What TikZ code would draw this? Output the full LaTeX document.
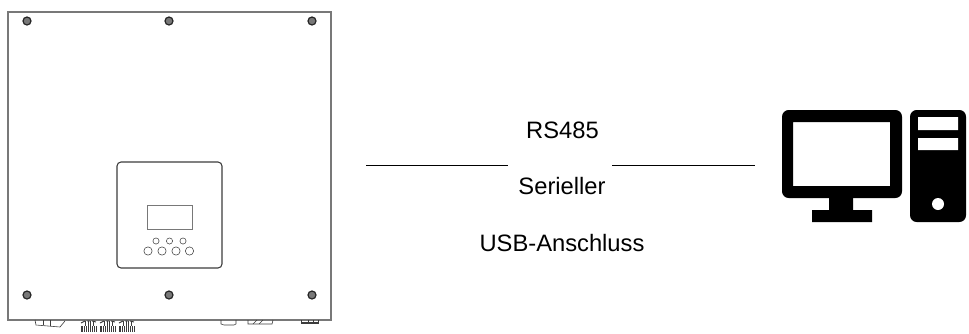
\documentclass[tikz,border=0pt]{standalone}
\usepackage{fontspec}
\setmainfont{Liberation Sans}
\usetikzlibrary{positioning,calc}
\definecolor{INVgray}{RGB}{120,120,120}
\definecolor{INVdark}{RGB}{60,60,60}
\tikzset{
  housing/.style={draw=INVgray,line width=1.2pt,fill=white},
  part/.style={draw=INVdark,line width=0.45pt},
  screw/.style={circle,draw=black!85,line width=0.9pt,fill=INVgray,inner sep=0pt,minimum size=6pt},
  keybig/.style={circle,draw=INVdark,line width=0.4pt,inner sep=0pt,minimum size=6.2pt},
  keysmall/.style={circle,draw=INVdark,line width=0.4pt,inner sep=0pt,minimum size=4.6pt},
  label/.style={font=\fontsize{17.8}{20}\selectfont,text=black,inner sep=0pt,anchor=base},
  wire/.style={draw=black,line width=0.9pt}
}
\begin{document}
\begin{tikzpicture}[x=0.75pt,y=-0.75pt]
  \useasboundingbox (0,0) rectangle (969,333);
  % inverter
  \draw[housing] (8,12) rectangle (331,320);
  \foreach \px/\py/\pname in {27/21/a,169/21/b,312/21/c,27/295/d,169/295/e,312/295/f}
    \node[screw] (screw\pname) at (\px,\py) {};
  \draw[draw=INVdark,line width=0.8pt,rounded corners=3pt] (117,162) rectangle (222,268);
  \draw[draw=INVgray,line width=0.7pt] (147,205) rectangle (192,229);
  \foreach \px in {156,169.5,183}
    \node[keysmall] at (\px,241) {};
  \foreach \px in {148,162,176,189.5}
    \node[keybig] at (\px,251) {};
  % connectors under the housing
  \draw[part] (35,320) -- (36,325) -- (60,327) -- (65,321);
  \draw[part] (43,320) -- (43,325) (50,320) -- (50,326);
  \foreach \px in {81,100,119}{
    \draw[part,line width=0.7pt] (\px,323) -- (\px+4,321) (\px+6,321) -- (\px+9,321) (\px+11,321) -- (\px+15,322);
    \foreach \dx in {0,1.5,3,5,7,9,11,13,15}
      \draw[part,line width=0.6pt] (\px+\dx,326) -- (\px+\dx,332);
    \foreach \dx in {4,7,9,12}
      \draw[part] (\px+\dx,321) -- (\px+\dx,326);
  }
  \draw[part] (221,320) -- (221,324) -- (224,325) -- (234,325) -- (236,324) -- (236,320);
  \draw[part] (248,320) -- (248,324) -- (272,324) -- (273,320);
  \draw[part] (253,324) -- (257,320) (259,324) -- (263,320);
  \draw[part,line width=0.8pt] (301,323) -- (318,323);
  \draw[part] (301,320) -- (301,324) (308,320) -- (308,324) (313,320) -- (313,324) (318,320) -- (318,324);
  % link
  \node[label] (rs) at (562.5,138) {RS485};
  \node[label] (ser) at (562,194) {Serieller};
  \node[label] (usb) at (562,251) {USB-Anschluss};
  \coordinate (wa) at (366,165.5);
  \coordinate (wb) at (508,165.5);
  \coordinate (wc) at (612,165.5);
  \coordinate (wd) at (755,165.5);
  \draw[wire] (wa) -- (wb);
  \draw[wire] (wc) -- (wd);
  % computer
  \fill[black,rounded corners=5pt,even odd rule] (782,110) rectangle (902,198) (793,122) [sharp corners] rectangle (890,186);
  \fill[black] (829,197) rectangle (853,211) (812,210) rectangle (872,222);
  \fill[black,rounded corners=5pt] (910,110) rectangle (966,222);
  \fill[white] (918,117) rectangle (958,130) (918,138) rectangle (958,150);
  \fill[white] (938,204) circle[radius=6];
\end{tikzpicture}
\end{document}
